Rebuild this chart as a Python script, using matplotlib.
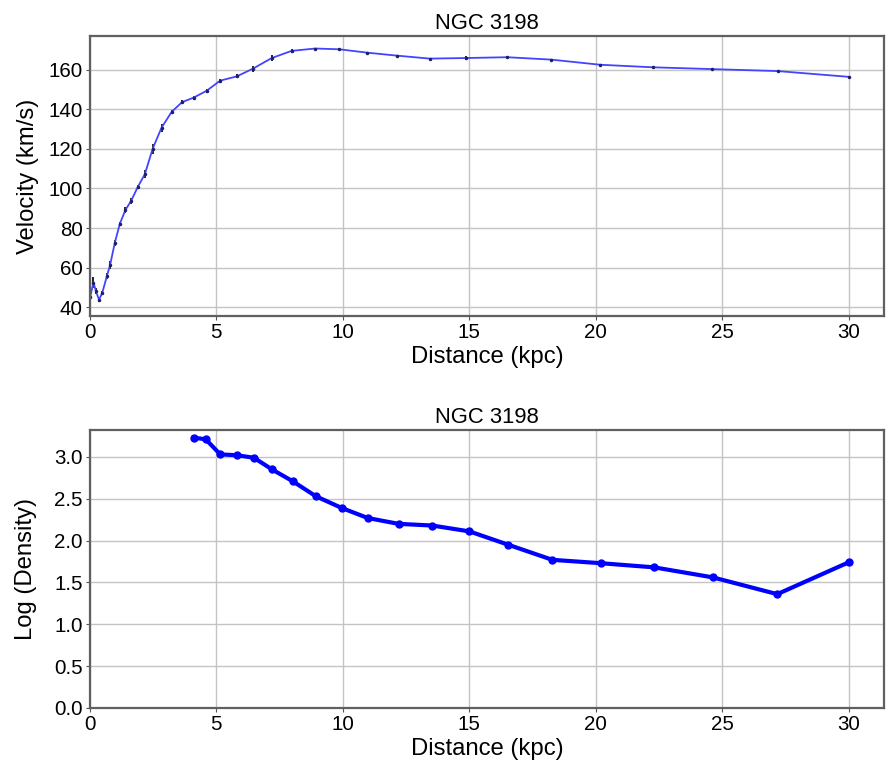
import matplotlib
matplotlib.use("Agg")
import matplotlib.pyplot as plt

plt.rcParams['font.family'] = ['Liberation Sans', 'DejaVu Sans']

# rotation curve (top panel)
radius = [0.02, 0.15, 0.25, 0.37, 0.50, 0.68, 0.81, 0.99, 1.19, 1.41, 1.64, 1.91,
          2.18, 2.49, 2.84, 3.24, 3.65, 4.11, 4.63, 5.16, 5.81, 6.45, 7.20, 7.98,
          8.92, 9.87, 10.97, 12.15, 13.44, 14.88, 16.51, 18.24, 20.18, 22.28,
          24.62, 27.20, 30.00]
velocity = [45.3, 52.5, 48.0, 43.8, 47.4, 55.8, 61.5, 72.4, 82.1, 89.1, 93.8, 101.0,
            107.2, 120.1, 130.7, 138.7, 143.6, 145.9, 149.4, 154.5, 156.6, 160.5, 165.9, 169.5,
            170.7, 170.3, 168.6, 167.1, 165.6, 165.9, 166.3, 165.1, 162.5, 161.2,
            160.3, 159.3, 156.4]
velocity_err = [2.5, 3.0, 1.5, 1.0, 1.0, 1.5, 2.0, 1.5, 1.0, 1.5, 1.5, 1.0,
                2.0, 2.5, 2.0, 1.0, 1.0, 1.0, 1.0, 1.0, 1.0, 1.5, 1.5, 1.0,
                0.5, 0.5, 0.5, 0.5, 0.5, 1.0, 0.5, 0.5, 0.5, 0.5,
                0.5, 0.5, 0.5]

# density profile (bottom panel)
dens_radius = [4.11, 4.59, 5.16, 5.81, 6.49, 7.21, 8.02, 8.94, 9.96, 10.99, 12.21,
               13.54, 15.01, 16.55, 18.29, 20.20, 22.32, 24.64, 27.18, 30.00]
log_density = [3.23, 3.21, 3.03, 3.02, 2.99, 2.85, 2.71, 2.53, 2.39, 2.27, 2.20,
               2.18, 2.11, 1.95, 1.77, 1.73, 1.68, 1.56, 1.36, 1.74]

fig = plt.figure(figsize=(8.88, 7.75), dpi=100)
ax1 = fig.add_axes([0.101, 0.592, 0.8945, 0.3615])
ax2 = fig.add_axes([0.101, 0.0865, 0.8945, 0.3585])

for ax in (ax1, ax2):
    ax.grid(True, color='#c4c4c4', lw=1)
    ax.set_axisbelow(True)
    for s in ax.spines.values():
        s.set_color('#606060')
        s.set_linewidth(1.6)
    ax.tick_params(labelsize=14.8, colors='#555555', labelcolor='black', length=3, pad=2)
    ax.set_xlabel("Distance (kpc)", fontsize=17.2, labelpad=3)
    ax.set_title("NGC 3198", fontsize=15.8, pad=5)

ax1.errorbar(radius, velocity, yerr=velocity_err, color='#4444ff', lw=1.3,
             ecolor='black', elinewidth=1.2, marker='.', ms=3, mfc='#202060', mec='#202060')
ax1.set_xlim(0, 31.4)
ax1.set_ylim(35.5, 177)
ax1.set_yticks(range(40, 161, 20))
ax1.set_xticks(range(0, 31, 5))
ax1.set_ylabel("Velocity (km/s)", fontsize=17.2, labelpad=7)

ax2.plot(dens_radius, log_density, color='blue', lw=3, marker='o', ms=5)
ax2.set_xlim(0, 31.4)
ax2.set_ylim(0, 3.32)
ax2.set_yticks([0.0, 0.5, 1.0, 1.5, 2.0, 2.5, 3.0])
ax2.set_xticks(range(0, 31, 5))
ax2.set_ylabel("Log (Density)", fontsize=17.2, labelpad=12)

fig.savefig("out.png", dpi=100)
